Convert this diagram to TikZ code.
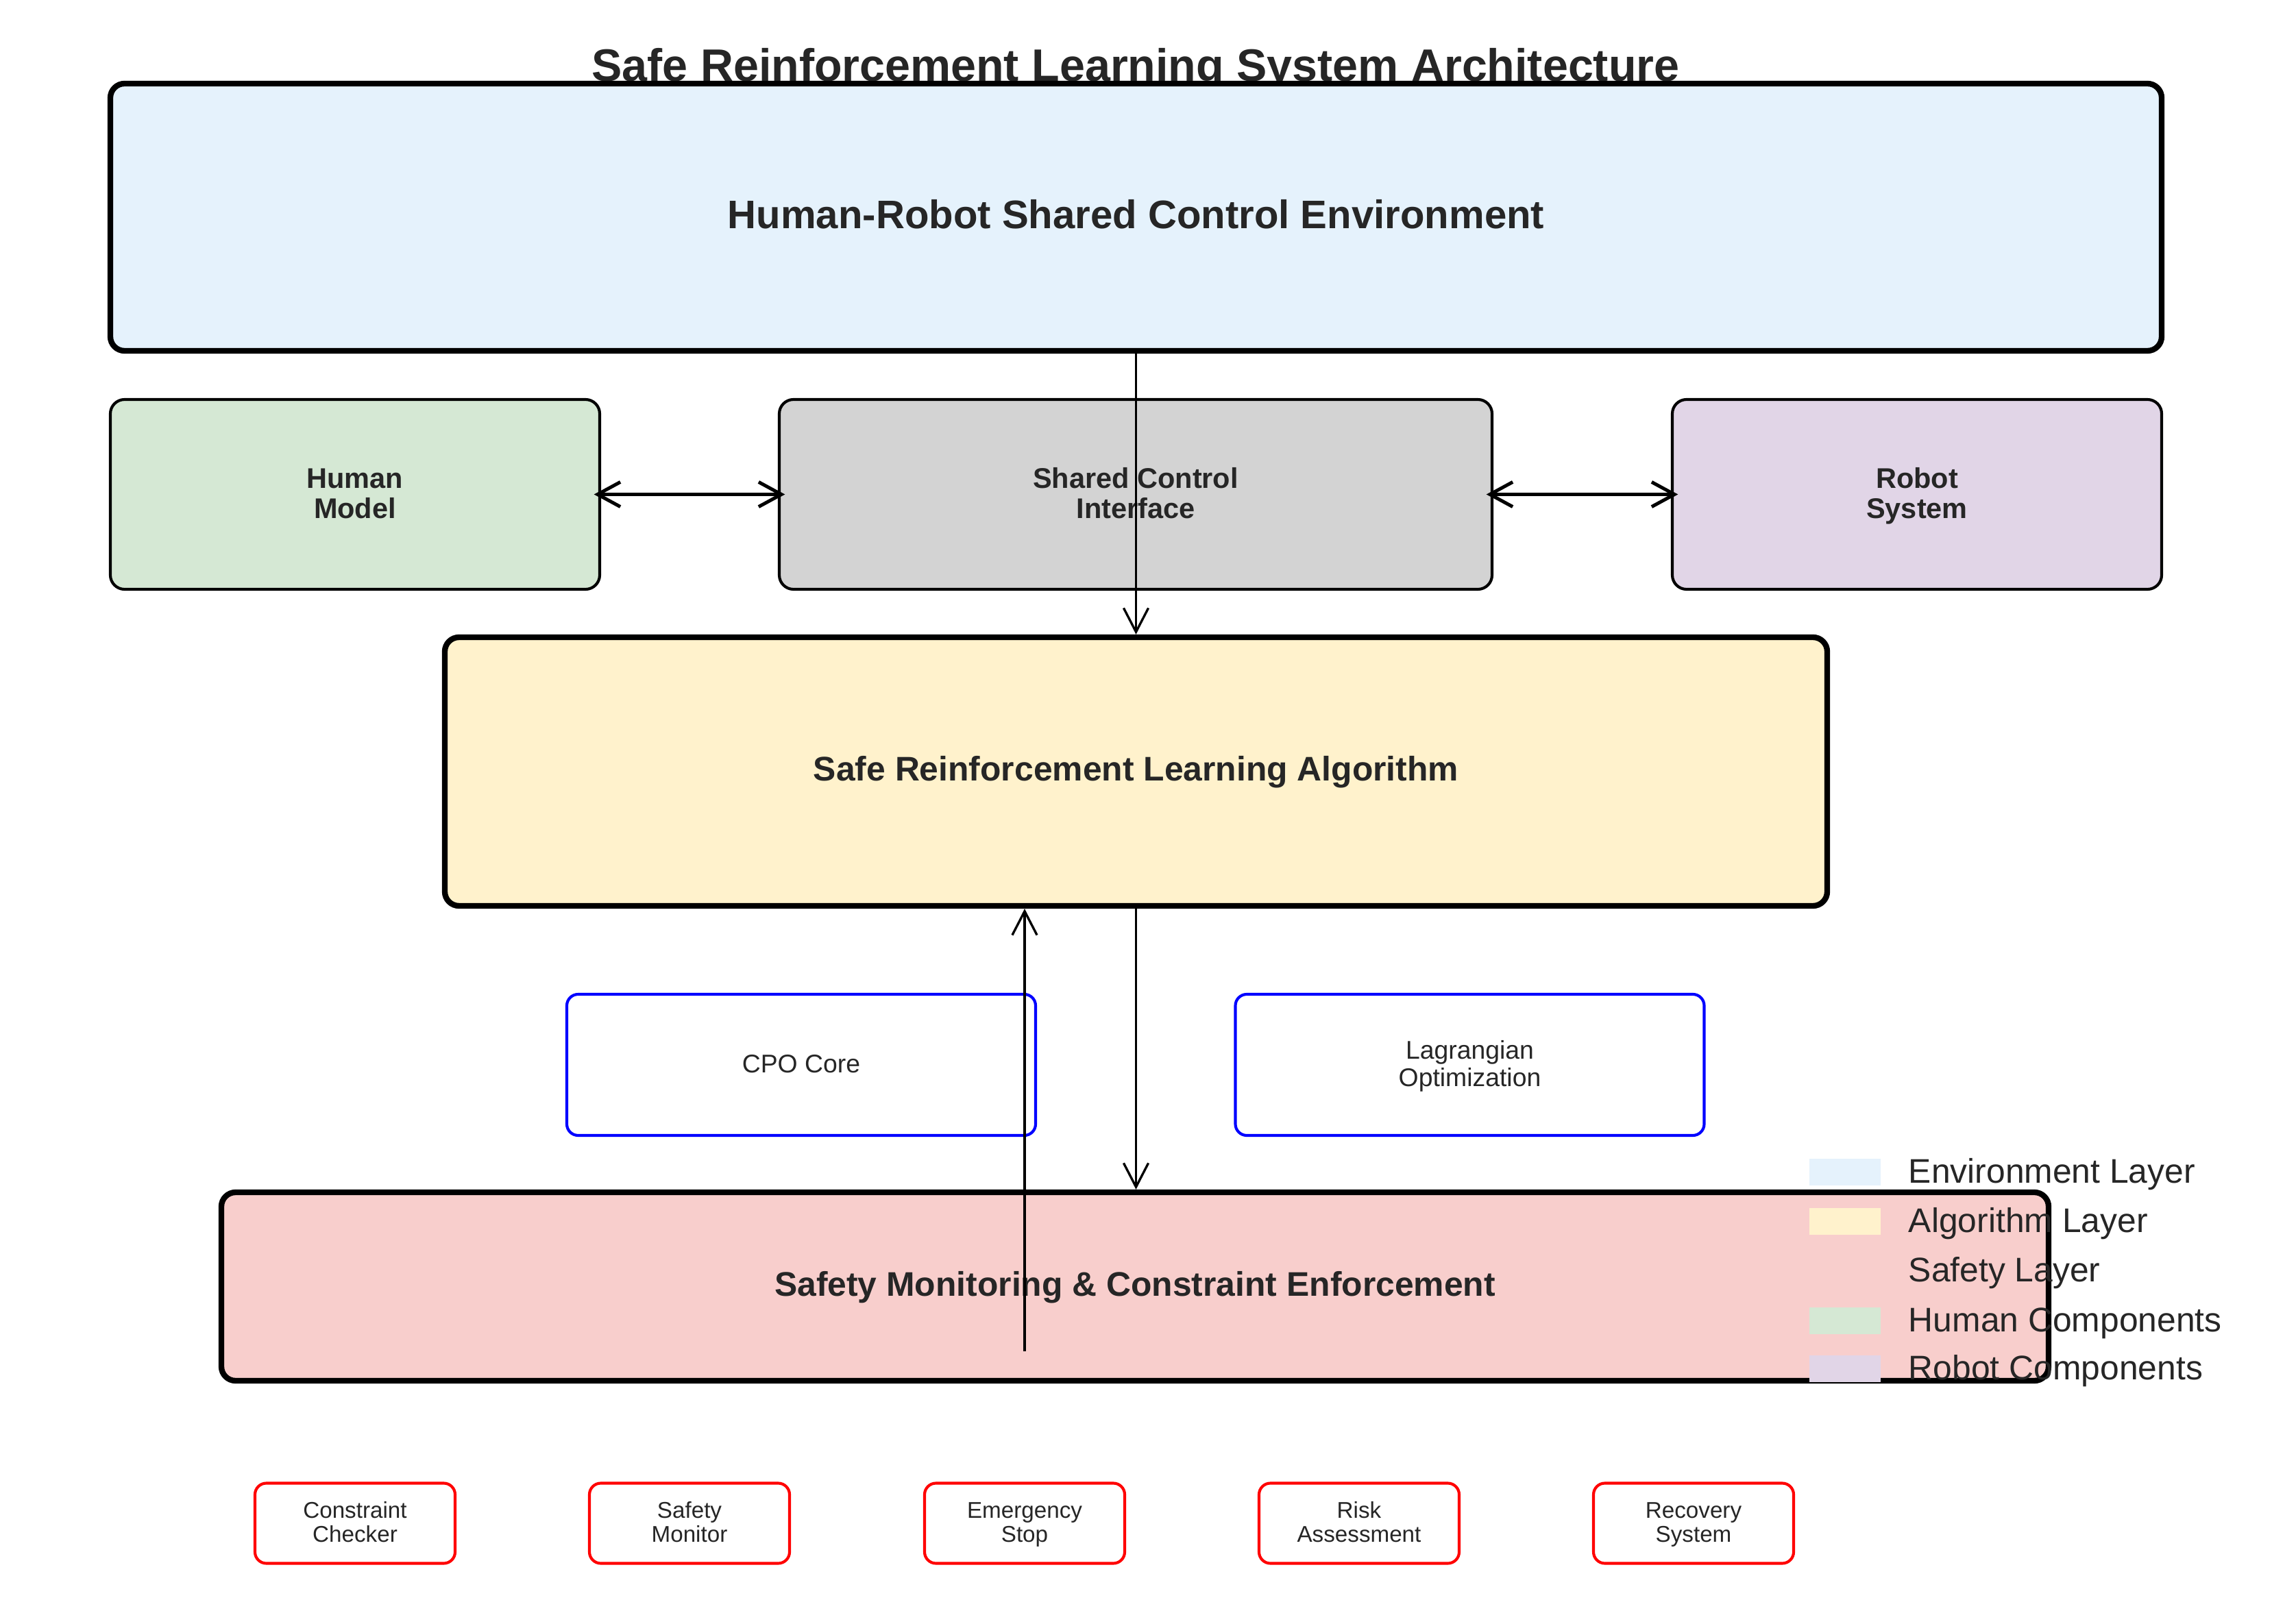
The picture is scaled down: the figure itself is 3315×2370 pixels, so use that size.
\documentclass[tikz,border=0pt]{standalone}
\usepackage{fontspec}
\setmainfont{Liberation Sans}
\usepackage{xcolor}
\usetikzlibrary{arrows.meta}

\definecolor{envcol}{HTML}{E5F2FC}
\definecolor{algcol}{HTML}{FFF2CC}
\definecolor{safecol}{HTML}{F8CECC}
\definecolor{humcol}{HTML}{D5E8D4}
\definecolor{robcol}{HTML}{E1D5E7}
\definecolor{shcol}{HTML}{D3D3D3}
\definecolor{txt}{HTML}{262626}

% medidas en pixeles de la imagen
\newcommand{\px}[1]{#1*0.2409pt}
% puntal para centrar el texto de las capas
\newcommand{\puntal}{\rule[-0.25em]{0pt}{1.06em}}

\begin{document}
\begin{tikzpicture} %Arquitectura
  [
    x=0.2409pt, y=-0.2409pt,
    % Definimos los estilos de las cajas y flechas
    capa/.style={draw, line width=2pt, rounded corners=5pt, inner sep=0pt, text=txt,
      font=\bfseries\fontsize{12}{14}\selectfont, execute at begin node=\puntal},
    comp/.style={draw, line width=1pt, rounded corners=5pt, inner sep=0pt, text=txt, align=center,
      font=\bfseries\fontsize{10}{10.5}\selectfont, minimum width=\px{714}, minimum height=\px{277},
      text height=19.7pt, text depth=3pt},
    sub/.style={draw=blue, line width=1pt, rounded corners=4pt, inner sep=0pt, fill=white, text=txt,
      align=center, font=\fontsize{9}{9.7}\selectfont, minimum width=\px{684}, minimum height=\px{206},
      text height=17.6pt, text depth=2.5pt},
    modulo/.style={draw=red, line width=1pt, rounded corners=4pt, inner sep=0pt, fill=white, text=txt,
      align=center, font=\fontsize{8}{8.6}\selectfont, minimum width=\px{292}, minimum height=\px{117},
      text height=15.9pt, text depth=2.5pt},
    parche/.style={inner sep=0pt, minimum width=\px{104}, minimum height=\px{39}},
    leyenda/.style={anchor=west, inner sep=0pt, text=txt, font=\fontsize{12}{14}\selectfont},
    flecha/.style={-{Straight Barb[length=8.4pt,width=8.7pt]}, line width=0.8pt},
    flechados/.style={{Straight Barb[length=8pt,width=8.7pt]}-{Straight Barb[length=8pt,width=8.7pt]},
      line width=1.2pt, shorten <=-2.5pt, shorten >=-2.5pt}
  ]
  \useasboundingbox (0,0) rectangle (3315,2370);

  \node[anchor=base, text=txt, font=\bfseries\fontsize{16}{19}\selectfont] (titulo) at (1657,119) {Safe Reinforcement Learning System Architecture};

  \node[capa, fill=envcol, minimum width=\px{2993}, minimum height=\px{390},
    font=\bfseries\fontsize{14}{16}\selectfont] (env) at (1657.5,317) {Human-Robot Shared Control Environment};

  \node[comp, fill=humcol] (human) at (518,721.5) {Human\\Model};
  \node[comp, fill=shcol, minimum width=\px{1040}] (shared) at (1657,721.5) {Shared Control\\Interface};
  \node[comp, fill=robcol] (robot) at (2797,721.5) {Robot\\System};

  \node[capa, fill=algcol, minimum width=\px{2017}, minimum height=\px{392}] (alg) at (1657.5,1126) {Safe Reinforcement Learning Algorithm};

  \node[sub, text height=7.74pt, text depth=2.25pt] (cpo) at (1169,1554) {CPO Core};
  \node[sub] (lag) at (2144.5,1554) {Lagrangian\\Optimization};

  \node[capa, fill=safecol, minimum width=\px{2666}, minimum height=\px{275}] (safety) at (1656,1877.5) {Safety Monitoring \& Constraint Enforcement};

  \node[modulo] (checker) at (518,2223) {Constraint\\Checker};
  \node[modulo] (monitor) at (1006,2223) {Safety\\Monitor};
  \node[modulo] (stop) at (1495,2223) {Emergency\\Stop};
  \node[modulo] (risk) at (1983,2223) {Risk\\Assessment};
  \node[modulo] (recovery) at (2471,2223) {Recovery\\System};

  \draw[flecha] (env.south) -- (alg.north);
  \draw[flechados] (human.east) -- (shared.west);
  \draw[flechados] (shared.east) -- (robot.west);
  \draw[flecha] (alg.south) -- (alg.south |- safety.north);
  \coordinate (retro) at (1495,1972);
  \draw[flecha] (retro) -- (retro |- alg.south);

  % leyenda
  \node[parche, fill=envcol] (p1) at (2692,1710) {};
  \node[parche, fill=algcol] (p2) at (2692,1782) {};
  \node[parche, fill=safecol] (p3) at (2692,1854) {};
  \node[parche, fill=humcol] (p4) at (2692,1927) {};
  \node[parche, fill=robcol] (p5) at (2692,1997) {};
  \node[leyenda] (l1) at (2784,1714) {Environment Layer};
  \node[leyenda] (l2) at (2784,1786) {Algorithm Layer};
  \node[leyenda] (l3) at (2784,1858) {Safety Layer};
  \node[leyenda] (l4) at (2784,1931) {Human Components};
  \node[leyenda] (l5) at (2784,2001) {Robot Components};
\end{tikzpicture}
\end{document}
